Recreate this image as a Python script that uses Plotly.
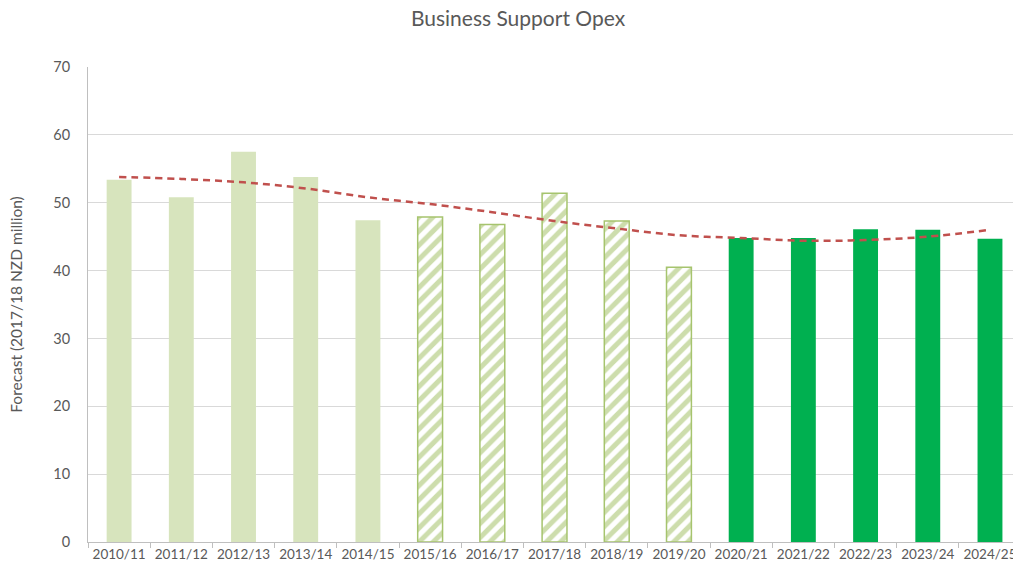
import plotly.graph_objects as go

# Financial years and opex values (2017/18 NZD million)
years = ["2010/11", "2011/12", "2012/13", "2013/14", "2014/15",
         "2015/16", "2016/17", "2017/18", "2018/19", "2019/20",
         "2020/21", "2021/22", "2022/23", "2023/24", "2024/25"]

actual_years = years[0:5]
actual_vals = [53.4, 50.8, 57.5, 53.8, 47.4]

current_years = years[5:10]
current_vals = [47.9, 46.8, 51.4, 47.3, 40.5]

forecast_years = years[10:15]
forecast_vals = [44.8, 44.8, 46.1, 46.0, 44.7]

trend_vals = [53.8, 53.5, 53.0, 52.1, 50.8, 49.8, 48.6, 47.3, 46.2, 45.2,
              44.8, 44.4, 44.5, 45.0, 46.0]

grey = "#595959"
font_family = "Lato, 'Open Sans', sans-serif"

fig = go.Figure()

fig.add_trace(go.Bar(
    x=actual_years, y=actual_vals, name="Actual",
    marker=dict(color="#D7E4BD", line=dict(width=0)),
    width=0.4,
))

fig.add_trace(go.Bar(
    x=current_years, y=current_vals, name="Current period",
    marker=dict(
        color="white",
        line=dict(color="#A6C46E", width=1.5),
        pattern=dict(shape="/", fgcolor="#9BBB59", bgcolor="white",
                     size=10, solidity=0.5, fillmode="overlay"),
    ),
    width=0.4,
))

fig.add_trace(go.Bar(
    x=forecast_years, y=forecast_vals, name="Forecast",
    marker=dict(color="#00B050", line=dict(width=0)),
    width=0.4,
))

fig.add_trace(go.Scatter(
    x=years, y=trend_vals, mode="lines", name="Trend",
    line=dict(color="#C0504D", width=2.5, dash="7px,5px", shape="spline"),
))

fig.update_layout(
    width=1013, height=569,
    margin=dict(l=88, r=0, t=67, b=27),
    paper_bgcolor="white", plot_bgcolor="white",
    showlegend=False,
    barmode="overlay",
    font=dict(family=font_family, color=grey, size=14),
    title=dict(text="Business Support Opex", x=518 / 1013, xanchor="center",
               y=1 - 19 / 569, yanchor="middle",
               font=dict(size=21, color=grey, family=font_family)),
    xaxis=dict(
        type="category", categoryorder="array", categoryarray=years,
        range=[-0.5, 14.37], automargin=False, tickangle=0,
        showgrid=False, showline=True, linecolor="#BFBFBF", linewidth=1,
        ticks="outside", tickson="boundaries", ticklen=5, tickcolor="#BFBFBF",
        tickfont=dict(size=13.5, color=grey),
        fixedrange=True,
    ),
    yaxis=dict(
        range=[0, 70], dtick=10, tick0=0, automargin=False,
        showgrid=True, gridcolor="#D9D9D9", gridwidth=1,
        showline=True, linecolor="#BFBFBF", linewidth=1,
        zeroline=False, ticks="", ticklabelstandoff=14,
        tickfont=dict(size=14.5, color=grey),
        title=dict(text="Forecast (2017/18 NZD million)", standoff=26,
                   font=dict(size=15.5, color=grey)),
        fixedrange=True,
    ),
)

fig.write_html("out.html")
